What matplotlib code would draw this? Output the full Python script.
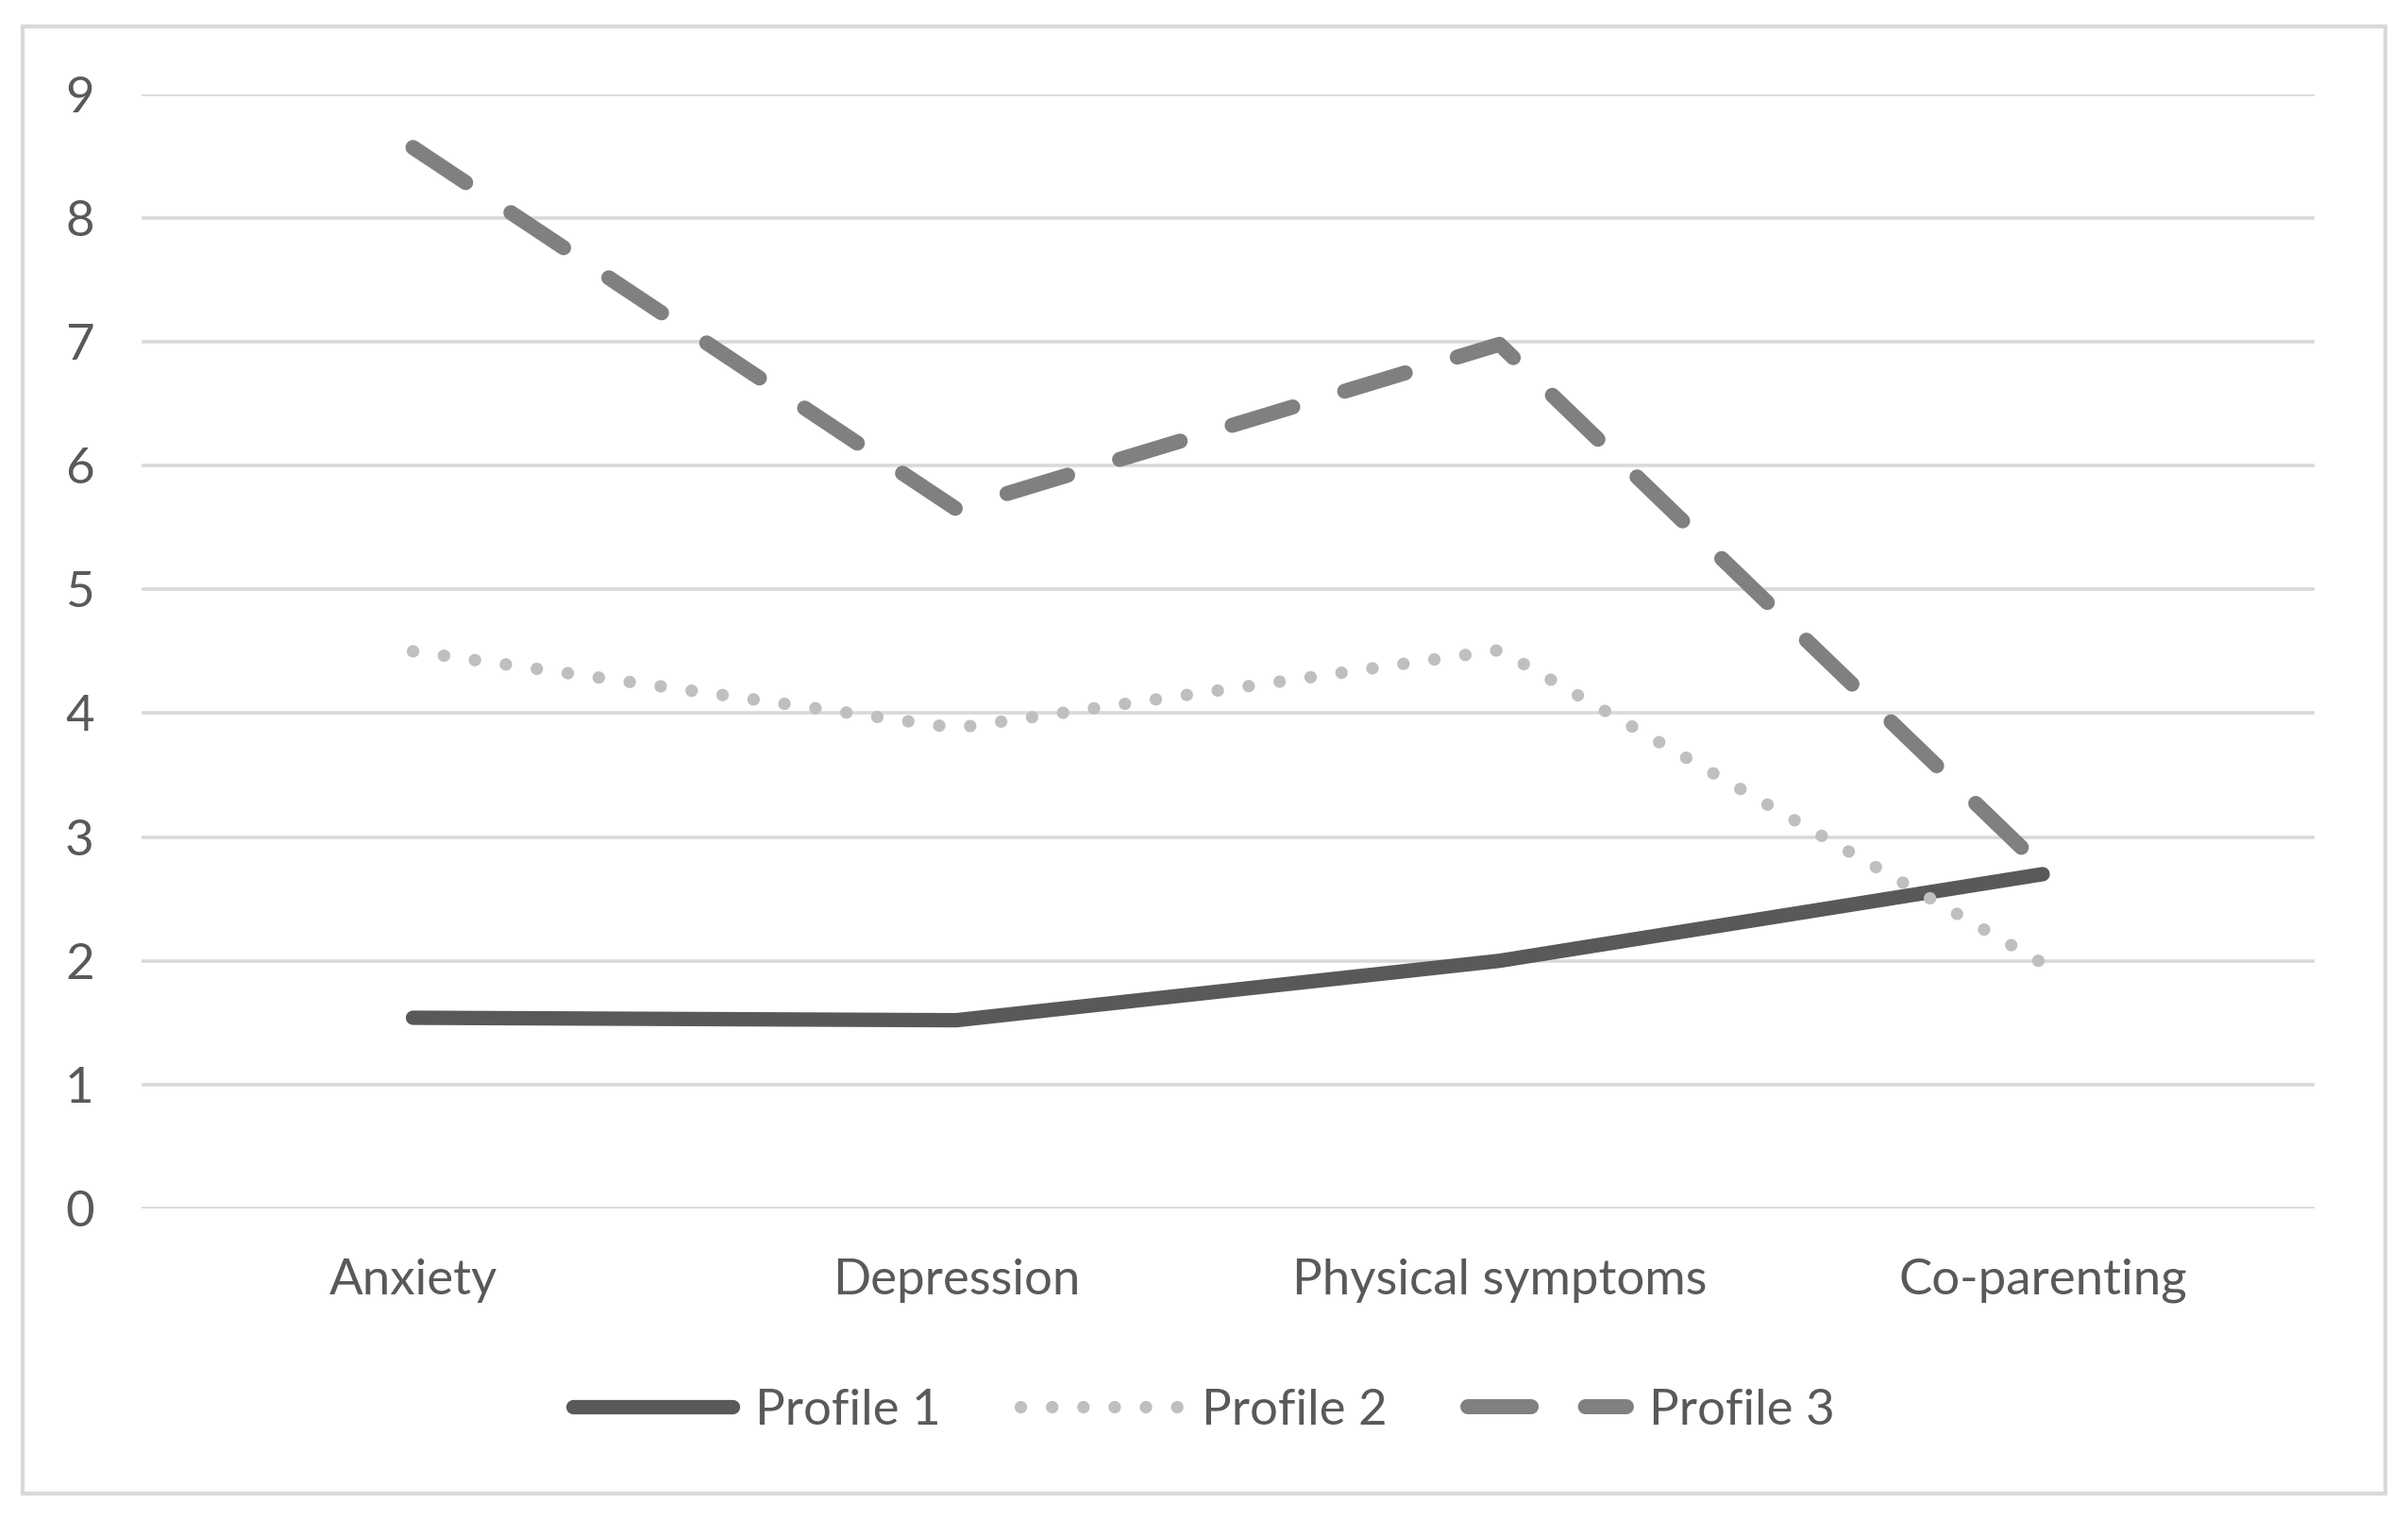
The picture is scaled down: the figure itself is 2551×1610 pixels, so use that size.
import matplotlib
matplotlib.use("Agg")
import matplotlib.pyplot as plt
from matplotlib.patches import Rectangle

# data
categories = ["Anxiety", "Depression", "Physical symptoms", "Co-parenting"]
profile_1 = [1.54, 1.52, 2.00, 2.70]
profile_2 = [4.50, 3.88, 4.51, 1.98]
profile_3 = [8.57, 5.65, 6.98, 2.75]
y_ticks = list(range(0, 10))

TEXT = "#595959"
GRID = "#D9D9D9"
FS = 38

plt.rcParams["font.family"] = ["Lato", "DejaVu Sans"]

fig = plt.figure(figsize=(25.51, 16.10), dpi=100)
ax = fig.add_axes([0.0587, 0.205, 0.9024, 0.733])

x = [i + 0.5 for i in range(len(categories))]

ax.plot(x, profile_1, color="#595959", linewidth=11, solid_capstyle="round",
        solid_joinstyle="round", label="Profile 1", zorder=3)
ax.plot(x, profile_2, color="#BFBFBF", linewidth=9.5,
        linestyle=(0, (0.01, 2.5)), dash_capstyle="round",
        label="Profile 2", zorder=3)
ax.plot(x, profile_3, color="#808080", linewidth=11.5,
        linestyle=(0, (4.2, 3.6)), dash_capstyle="round",
        label="Profile 3", zorder=3)

ax.set_xlim(0, len(categories))
ax.set_ylim(0, 9)
ax.set_yticks(y_ticks)
ax.set_xticks(x)
ax.set_xticklabels(categories)
ax.yaxis.grid(True, color=GRID, linewidth=2.6)
ax.set_axisbelow(True)
for s in ax.spines.values():
    s.set_visible(False)
ax.tick_params(axis="y", length=0, pad=36, labelsize=FS, labelcolor=TEXT)
ax.tick_params(axis="x", length=0, pad=38, labelsize=FS, labelcolor=TEXT)

ax.legend(loc="center", bbox_to_anchor=(0.5, 0.072),
          bbox_transform=fig.transFigure, ncol=3, frameon=False,
          fontsize=FS, labelcolor=TEXT, handlelength=3.2,
          handletextpad=0.45, columnspacing=1.6)

# light outer frame like the original chart area
fig.patches.append(Rectangle((0.0096, 0.0172), 0.9809, 0.9656,
                             transform=fig.transFigure, fill=False,
                             edgecolor=GRID, linewidth=3))

fig.savefig("out.png", dpi=100, facecolor="white")
